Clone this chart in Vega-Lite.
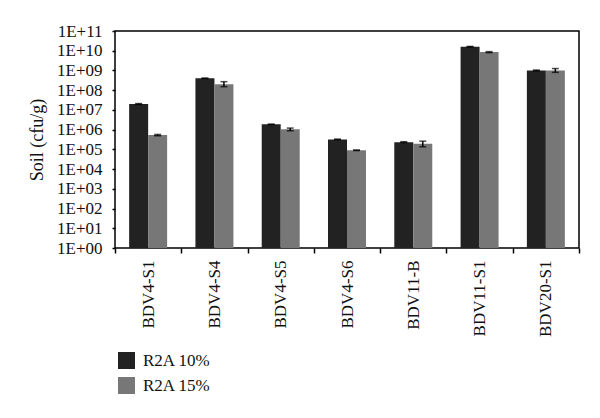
{
  "$schema": "https://vega.github.io/schema/vega-lite/v6.json",
  "width": 464,
  "height": 217,
  "autosize": "none",
  "padding": {"left": 115, "top": 31, "right": 21, "bottom": 170},
  "background": "white",
  "config": {
    "view": {"stroke": "#000000", "strokeWidth": 1.5},
    "font": "Times New Roman",
    "axis": {"grid": false, "domain": false, "tickColor": "#000", "labelColor": "#111", "titleColor": "#111", "labelFont": "Times New Roman", "titleFont": "Times New Roman"},
    "legend": {"labelFont": "Times New Roman"}
  },
  "data": {
    "values": [
      {"sample": "BDV4-S1", "medium": "R2A 10%", "value": 2.0e7, "lo": 1.9e7, "hi": 2.1e7},
      {"sample": "BDV4-S1", "medium": "R2A 15%", "value": 5.3e5, "lo": 4.9e5, "hi": 5.7e5},
      {"sample": "BDV4-S4", "medium": "R2A 10%", "value": 4.0e8, "lo": 3.9e8, "hi": 4.1e8},
      {"sample": "BDV4-S4", "medium": "R2A 15%", "value": 2.0e8, "lo": 1.5e8, "hi": 2.7e8},
      {"sample": "BDV4-S5", "medium": "R2A 10%", "value": 1.85e6, "lo": 1.8e6, "hi": 1.9e6},
      {"sample": "BDV4-S5", "medium": "R2A 15%", "value": 1.05e6, "lo": 8.8e5, "hi": 1.2e6},
      {"sample": "BDV4-S6", "medium": "R2A 10%", "value": 3.2e5, "lo": 3.1e5, "hi": 3.3e5},
      {"sample": "BDV4-S6", "medium": "R2A 15%", "value": 9.0e4, "lo": 8.7e4, "hi": 9.3e4},
      {"sample": "BDV11-B", "medium": "R2A 10%", "value": 2.3e5, "lo": 2.2e5, "hi": 2.45e5},
      {"sample": "BDV11-B", "medium": "R2A 15%", "value": 1.95e5, "lo": 1.35e5, "hi": 2.6e5},
      {"sample": "BDV11-S1", "medium": "R2A 10%", "value": 1.6e10, "lo": 1.55e10, "hi": 1.65e10},
      {"sample": "BDV11-S1", "medium": "R2A 15%", "value": 8.5e9, "lo": 8.0e9, "hi": 9.0e9},
      {"sample": "BDV20-S1", "medium": "R2A 10%", "value": 1.0e9, "lo": 0.95e9, "hi": 1.05e9},
      {"sample": "BDV20-S1", "medium": "R2A 15%", "value": 1.0e9, "lo": 0.8e9, "hi": 1.25e9}
    ]
  },
  "encoding": {
    "x": {
      "field": "sample", "type": "nominal", "sort": null,
      "scale": {"paddingInner": 0, "paddingOuter": 0},
      "axis": {"title": null, "labelAngle": -90, "labelFontSize": 17, "tickSize": 5, "tickBand": "extent", "labelPadding": 7, "tickWidth": 1.5}
    },
    "xOffset": {"field": "medium", "type": "nominal", "scale": {"paddingInner": 0, "paddingOuter": 0.745}}
  },
  "layer": [
    {
      "mark": {"type": "bar"},
      "encoding": {
        "y": {
          "field": "value", "type": "quantitative",
          "scale": {"type": "log", "domain": [1, 1e11], "nice": false},
          "axis": {
            "title": "Soil (cfu/g)", "titleFontSize": 18, "titleFontWeight": "normal", "titlePadding": 10,
            "values": [1, 10, 100, 1000, 10000, 100000, 1000000, 10000000, 100000000, 1000000000, 10000000000, 100000000000],
            "labelExpr": "'1E+' + (round(log(datum.value)/LN10) < 10 ? '0' : '') + round(log(datum.value)/LN10)",
            "labelFontSize": 17, "tickSize": 3, "labelPadding": 10, "tickWidth": 1.5
          }
        },
        "y2": {"datum": 1},
        "color": {
          "field": "medium", "type": "nominal",
          "scale": {"domain": ["R2A 10%", "R2A 15%"], "range": ["#222222", "#777777"]},
          "legend": {"title": null, "orient": "none", "legendX": 3, "legendY": 321, "symbolType": "square", "symbolSize": 289, "symbolStrokeWidth": 0, "labelFontSize": 17, "labelColor": "#111", "rowPadding": 7, "labelOffset": 8, "padding": 0}
        }
      }
    },
    {
      "mark": {"type": "rule", "color": "#000", "strokeWidth": 1.5},
      "encoding": {
        "y": {"field": "lo", "type": "quantitative"},
        "y2": {"field": "hi"}
      }
    },
    {
      "mark": {"type": "tick", "color": "#000", "thickness": 1.5, "size": 7},
      "encoding": {"y": {"field": "lo", "type": "quantitative"}}
    },
    {
      "mark": {"type": "tick", "color": "#000", "thickness": 1.5, "size": 7},
      "encoding": {"y": {"field": "hi", "type": "quantitative"}}
    }
  ]
}
